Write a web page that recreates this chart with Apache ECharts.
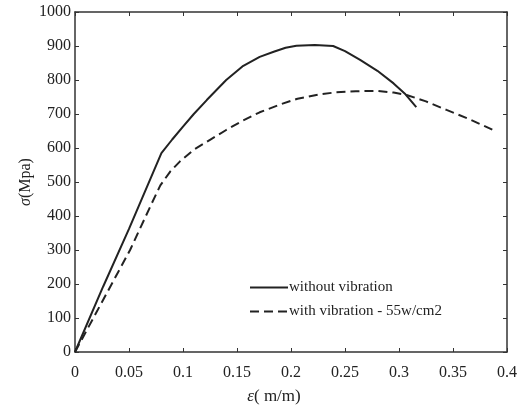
<!DOCTYPE html>
<html><head><meta charset="utf-8">
<script src="https://cdn.jsdelivr.net/npm/echarts@6/dist/echarts.min.js"></script>
<style>html,body{margin:0;padding:0;background:#fff}#c{width:531px;height:412px}</style>
</head><body><div id="c"></div>
<script>
var seriesNames = ['without vibration', 'with vibration - 55w/cm2'];
var xTicks = [0, 0.05, 0.1, 0.15, 0.2, 0.25, 0.3, 0.35, 0.4];
var yTicks = [0, 100, 200, 300, 400, 500, 600, 700, 800, 900, 1000];
var strainNoVib = [0, 0.026, 0.05, 0.08, 0.09, 0.1, 0.11, 0.122, 0.14, 0.155, 0.171, 0.184, 0.195, 0.205, 0.222, 0.239, 0.25, 0.264, 0.28, 0.295, 0.306, 0.316];
var stressNoVib = [0, 192, 362, 585, 625, 663, 700, 741, 800, 840, 868, 883, 895, 901, 903, 900, 885, 859, 827, 790, 758, 720];
var strainVib = [0, 0.026, 0.051, 0.07, 0.079, 0.088, 0.097, 0.11, 0.125, 0.14, 0.155, 0.171, 0.19, 0.206, 0.225, 0.242, 0.26, 0.279, 0.295, 0.307, 0.325, 0.344, 0.365, 0.387];
var stressVib = [0, 153, 300, 430, 490, 530, 560, 595, 624, 653, 680, 705, 728, 745, 757, 764, 767, 768, 763, 756, 737, 712, 685, 653];

function pairs(xs, ys){ return xs.map(function(x,i){return [x, ys[i]];}); }
var font = 'Liberation Serif';
var col = '#222';
var chart = echarts.init(document.getElementById('c'));
var axisCommon = {
  axisLine: {show: true, onZero: false, lineStyle: {color: '#333', width: 1.5}},
  axisTick: {show: true, inside: true, length: 4, lineStyle: {color: '#333'}},
  splitLine: {show: false}
};
chart.setOption({
  animation: false,
  backgroundColor: '#fff',
  grid: {left: 75, right: 24, top: 12, bottom: 60},
  legend: {
    orient: 'vertical', left: 244, top: 275, itemGap: 9,
    itemWidth: 38, itemHeight: 12,
    itemStyle: {opacity: 0},
    textStyle: {fontFamily: font, fontSize: 15, color: '#222', padding: [0,0,0,-4]},
    data: seriesNames
  },
  xAxis: [
    Object.assign({
      type: 'value', min: 0, max: 0.4, interval: 0.05, position: 'bottom',
      name: '{i|ε}( m/m)', nameLocation: 'middle', nameGap: 36, nameMoveOverlap: false,
      nameTextStyle: {fontFamily: font, fontSize: 17, color: '#222', padding: [0, 34, 0, 0],
        rich: {i: {fontFamily: font, fontStyle: 'italic', fontSize: 17, color: '#222'}}},
      axisLabel: {fontFamily: font, fontSize: 16, color: '#222', margin: 13,
        formatter: function(v){ var t = xTicks.filter(function(k){return Math.abs(k-v)<1e-9;}); return t.length ? String(t[0]) : ''; }}
    }, axisCommon),
    Object.assign({
      type: 'value', min: 0, max: 0.4, interval: 0.05, position: 'top',
      axisLabel: {show: false}
    }, axisCommon)
  ],
  yAxis: [
    Object.assign({
      type: 'value', min: 0, max: 1000, interval: 100, position: 'left',
      name: '{i|σ}(Mpa)', nameLocation: 'middle', nameGap: 41, nameRotate: 90, nameMoveOverlap: false,
      nameTextStyle: {fontFamily: font, fontSize: 16, color: '#222',
        rich: {i: {fontFamily: font, fontStyle: 'italic', fontSize: 16, color: '#222'}}},
      axisLabel: {fontFamily: font, fontSize: 16, color: '#222', margin: 4,
        formatter: function(v){ return yTicks.indexOf(v) >= 0 ? String(v) : ''; }}
    }, axisCommon),
    Object.assign({
      type: 'value', min: 0, max: 1000, interval: 100, position: 'right',
      axisLabel: {show: false}
    }, axisCommon)
  ],
  series: [
    {name: seriesNames[0], type: 'line', smooth: false, showSymbol: false, symbol: 'none',
     data: pairs(strainNoVib, stressNoVib),
     lineStyle: {color: col, width: 2, type: 'solid'}, itemStyle: {color: col}},
    {name: seriesNames[1], type: 'line', smooth: false, showSymbol: false, symbol: 'none',
     data: pairs(strainVib, stressVib),
     lineStyle: {color: col, width: 2, type: [9, 5]}, itemStyle: {color: col}}
  ]
});
</script></body></html>
